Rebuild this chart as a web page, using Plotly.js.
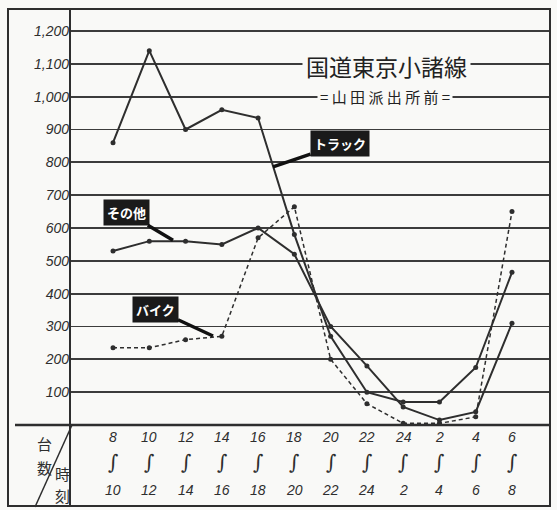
<!DOCTYPE html>
<html><head><meta charset="utf-8">
<script src="https://cdn.plot.ly/plotly-3.0.1.min.js"></script>
<style>html,body{margin:0;padding:0;background:#f9f9f7;}#chart{width:557px;height:510px;}</style>
</head><body><div id="chart"></div>
<script>
// time slots (from / to)
const timeFrom = ['8','10','12','14','16','18','20','22','24','2','4','6'];
const timeTo   = ['10','12','14','16','18','20','22','24','2','4','6','8'];
const categories = timeFrom.map((f,i)=>f+'〜'+timeTo[i]);
// vehicle counts
const truck  = [860,1140,900,960,935,580,270,100,70,70,175,465];
const sonota = [530,560,560,550,600,520,300,180,55,15,40,310];
const bike   = [235,235,260,270,570,665,200,65,5,5,25,650];
const yTicks = [100,200,300,400,500,600,700,800,900,1000,1100,1200];
const titleText = '国道東京小諸線';
const subtitleText = '= 山 田 派 出 所 前 =';
const seriesNames = ['トラック','その他','バイク'];

const ink = '#2e2e2e';
const bg = '#f9f9f7';
const lblFont = {family:'Liberation Sans, Arial', size:14, color:ink, style:'italic'};

const traces = [
  {x:categories, y:truck, name:seriesNames[0], mode:'lines+markers', line:{color:ink,width:2}, marker:{color:ink,size:5}},
  {x:categories, y:sonota, name:seriesNames[1], mode:'lines+markers', line:{color:ink,width:2}, marker:{color:ink,size:5}},
  {x:categories, y:bike, name:seriesNames[2], mode:'lines+markers', line:{color:ink,width:1.5,dash:'4px,3px'}, marker:{color:ink,size:5}}
];

const annotations = [];
const mid = {xanchor:'center', yanchor:'middle'};
categories.forEach((c,i)=>{
  annotations.push(Object.assign({xref:'x', yref:'paper', x:c, y:-0.029, text:timeFrom[i], showarrow:false, font:lblFont}, mid));
  annotations.push(Object.assign({xref:'x', yref:'paper', x:c, y:-0.089, text:'∫', showarrow:false, font:{family:'DejaVu Serif', size:20, color:ink}}, mid));
  annotations.push(Object.assign({xref:'x', yref:'paper', x:c, y:-0.156, text:timeTo[i], showarrow:false, font:lblFont}, mid));
});
// corner labels
const cjk = 'Noto Sans CJK JP';
const pxX = p => (p-70)/480, pxY = p => (425-p)/416;
[['台',44,443],['数',44,467],['時',62,473],['刻',62,495]].forEach(a=>{
  annotations.push(Object.assign({xref:'paper', yref:'paper', x:pxX(a[1]), y:pxY(a[2]), text:a[0], showarrow:false, font:{family:cjk,size:15,color:ink}}, mid));
});
// title
annotations.push(Object.assign({xref:'paper', yref:'paper', x:pxX(386), y:pxY(66), text:titleText, showarrow:false,
  font:{family:cjk,size:23,color:'#222'}, bgcolor:bg, borderpad:3}, mid));
annotations.push(Object.assign({xref:'paper', yref:'paper', x:pxX(385), y:pxY(96), text:subtitleText, showarrow:false,
  font:{family:cjk,size:15,color:'#222'}, bgcolor:bg, borderpad:2}, mid));
// series labels
const tag = (txt, tx, ty, ax, ay) => ({xref:'x', yref:'y', x:tx, y:ty, ax:ax, ay:ay, axref:'pixel', ayref:'pixel',
  text:txt, showarrow:true, arrowhead:0, arrowwidth:3.5, arrowcolor:'#111', bgcolor:'#1a1a1a', borderpad:3,
  font:{family:cjk, size:13, color:'#fff', weight:'bold'}});
annotations.push(tag(seriesNames[0], 4.41, 786, 67, -23));
annotations.push(tag(seriesNames[1], 1.654, 563, -47, -28));
annotations.push(tag(seriesNames[2], 2.757, 271, -58, -27));

const shapes = [
  {type:'rect', xref:'paper', yref:'paper', x0:pxX(8), x1:1, y0:pxY(506), y1:1, line:{color:ink,width:2}},
  {type:'line', xref:'paper', yref:'paper', x0:0, x1:0, y0:pxY(506), y1:1, line:{color:ink,width:2}},
  {type:'line', xref:'paper', yref:'paper', x0:pxX(15), x1:1, y0:0, y1:0, line:{color:ink,width:2.5}},
  {type:'line', xref:'paper', yref:'paper', x0:pxX(72), x1:pxX(35), y0:0, y1:pxY(507), line:{color:ink,width:1.5}}
];

const layout = {
  width:557, height:510,
  margin:{l:70, r:7, t:9, b:85},
  paper_bgcolor:bg, plot_bgcolor:bg,
  showlegend:false,
  xaxis:{type:'category', range:[-1.186, 12.048], showticklabels:false, showgrid:false, zeroline:false, showline:false, fixedrange:true},
  yaxis:{range:[0,1267], tickvals:yTicks, tickformat:',d', showgrid:true, gridcolor:'#3c3c3c', gridwidth:1.8,
    zeroline:false, showline:false, ticks:'', tickfont:lblFont, fixedrange:true},
  annotations:annotations, shapes:shapes
};
Plotly.newPlot('chart', traces, layout, {staticPlot:true, displayModeBar:false});
</script></body></html>
